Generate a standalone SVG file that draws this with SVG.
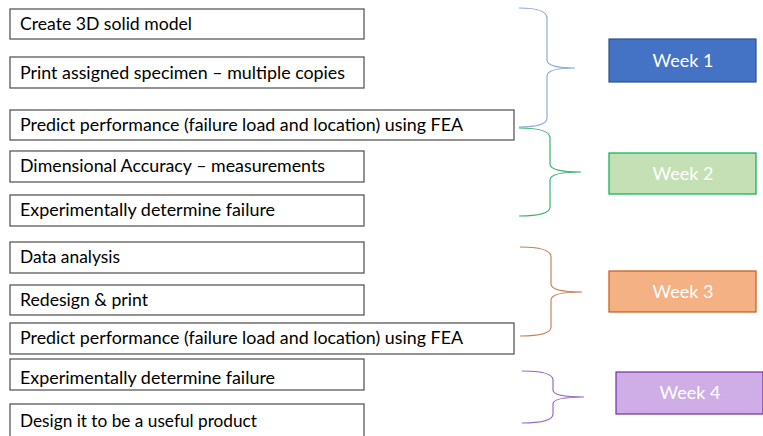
<svg xmlns="http://www.w3.org/2000/svg" width="763" height="436" viewBox="0 0 763 436">
<style>
.box{fill:#fff;stroke:#595959;stroke-width:1.3}
.t{font-family:Lato,"Open Sans","Liberation Sans",sans-serif;font-size:17px;fill:#000}
.wt{font-family:Lato,"Open Sans","Liberation Sans",sans-serif;font-size:18px;fill:#fff;text-anchor:middle}
.br{fill:none;stroke-width:1.2}
</style>
<rect width="763" height="436" fill="#fff"/>
<g id="task1"><rect class="box" x="10" y="9" width="354" height="30"/><text class="t" x="20" y="30" textLength="172" lengthAdjust="spacingAndGlyphs">Create 3D solid model</text></g>
<g id="task2"><rect class="box" x="10" y="57" width="354" height="31"/><text class="t" x="20" y="79" textLength="325" lengthAdjust="spacingAndGlyphs">Print assigned specimen – multiple copies</text></g>
<g id="task3"><rect class="box" x="10" y="110" width="504" height="30"/><text class="t" x="20" y="131" textLength="443" lengthAdjust="spacingAndGlyphs">Predict performance (failure load and location) using FEA</text></g>
<g id="task4"><rect class="box" x="10" y="151" width="354" height="31"/><text class="t" x="20" y="172" textLength="305" lengthAdjust="spacingAndGlyphs">Dimensional Accuracy – measurements</text></g>
<g id="task5"><rect class="box" x="10" y="195" width="354" height="31"/><text class="t" x="20" y="216" textLength="255" lengthAdjust="spacingAndGlyphs">Experimentally determine failure</text></g>
<g id="task6"><rect class="box" x="10" y="242" width="354" height="31"/><text class="t" x="20" y="263" textLength="100" lengthAdjust="spacingAndGlyphs">Data analysis</text></g>
<g id="task7"><rect class="box" x="10" y="285" width="354" height="30"/><text class="t" x="20" y="306" textLength="128" lengthAdjust="spacingAndGlyphs">Redesign &amp; print</text></g>
<g id="task8"><rect class="box" x="10" y="323" width="504" height="31"/><text class="t" x="20" y="344" textLength="443" lengthAdjust="spacingAndGlyphs">Predict performance (failure load and location) using FEA</text></g>
<g id="task9"><rect class="box" x="10" y="359" width="354" height="31"/><text class="t" x="20" y="384" textLength="255" lengthAdjust="spacingAndGlyphs">Experimentally determine failure</text></g>
<g id="task10"><rect class="box" x="10" y="404" width="354" height="44"/><text class="t" x="20" y="427" textLength="237" lengthAdjust="spacingAndGlyphs">Design it to be a useful product</text></g>
<g id="week1"><rect x="609" y="39" width="147" height="43" fill="#4472C4" stroke="#2F528F" stroke-width="1.2"/><text class="wt" x="683" y="67">Week 1</text></g>
<g id="week2"><rect x="609" y="153" width="147" height="41" fill="#C5E0B4" stroke="#00B050" stroke-width="1.2"/><text class="wt" x="683" y="180">Week 2</text></g>
<g id="week3"><rect x="609" y="271" width="147" height="41" fill="#F4B183" stroke="#C55A11" stroke-width="1.2"/><text class="wt" x="683" y="298">Week 3</text></g>
<g id="week4"><rect x="616" y="372" width="147" height="42" fill="#CFADE6" stroke="#7030A0" stroke-width="1.2"/><text class="wt" x="690" y="399">Week 4</text></g>
<g id="connectors">
<path class="br" stroke="#8FAADC" d="M519,8 Q547,8 547,18 L547,60 Q547,68 575,68 Q547,68 547,76 L547,118 Q547,127 519,127"/>
<path class="br" stroke="#3CB371" d="M519,128 Q550,128 550,138 L550,164 Q550,172 581,172 Q550,172 550,180 L550,207 Q550,216 519,216"/>
<path class="br" stroke="#C8845A" d="M520,247 Q551,247 551,257 L551,284 Q551,292 582,292 Q551,292 551,300 L551,327 Q551,336 520,336"/>
<path class="br" stroke="#9B6BC4" d="M522,371 Q553,371 553,380 L553,390 Q553,397 584,397 Q553,397 553,404 L553,414 Q553,423 522,423"/>
</g>
</svg>
